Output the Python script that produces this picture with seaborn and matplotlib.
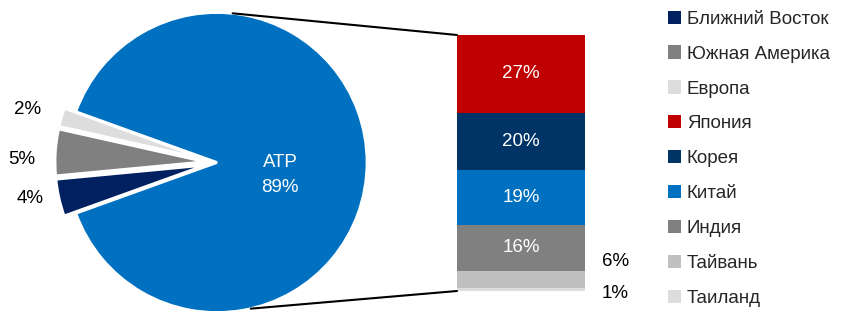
import matplotlib
matplotlib.use("Agg")
import matplotlib.pyplot as plt
import seaborn as sns
import pandas as pd
import numpy as np
from matplotlib.patches import Patch, ConnectionPatch

# ---- data ----
pie_names = ["Европа", "Южная Америка", "Ближний Восток", "АТР"]
pie_values = [2, 5, 4, 89]
pie_colors = ["#DDDDDD", "#808080", "#002060", "#0070C0"]
pie_explode = [0.08, 0.08, 0.08, 0.0]

bar_names = ["Япония", "Корея", "Китай", "Индия", "Тайвань", "Таиланд"]
bar_values = [27, 20, 19, 16, 6, 1]
bar_colors = ["#C00000", "#003366", "#0070C0", "#808080", "#C0C0C0", "#DDDDDD"]

legend_names = ["Ближний Восток", "Южная Америка", "Европа", "Япония", "Корея",
                "Китай", "Индия", "Тайвань", "Таиланд"]
legend_colors = ["#002060", "#808080", "#DDDDDD", "#C00000", "#003366",
                 "#0070C0", "#808080", "#C0C0C0", "#DDDDDD"]

sns.set_theme(style="white")
plt.rcParams["font.family"] = ["Liberation Sans", "DejaVu Sans"]
FS = 13.5

W, H = 841, 311
fig = plt.figure(figsize=(W / 100, H / 100), dpi=100)

# ---- pie ----
cx, cy, R = 217, 311 - 162.5, 150
half = 1.6 * R
axp = fig.add_axes([(cx - half) / W, (cy - half) / H, 2 * half / W, 2 * half / H])
small_labels = [f"{v}%" for v in pie_values[:-1]] + [""]
wedges, texts = axp.pie(pie_values, colors=pie_colors, explode=pie_explode,
                        startangle=180 - sum(pie_values[:-1]) * 3.6 / 2,
                        labels=small_labels, labeldistance=1.13, radius=1,
                        wedgeprops=dict(edgecolor="white", linewidth=2),
                        textprops=dict(fontsize=FS, color="black"))
label_pos = [(-1.26, 0.355), (-1.30, 0.02), (-1.247, -0.24)]
for t, p in zip(texts, label_pos):
    t.set_position(p)
    t.set_ha("center")
    t.set_va("center")
axp.set_xlim(-1.6, 1.6)
axp.set_ylim(-1.6, 1.6)
axp.axis("off")
axp.text(0.42, -0.083, f"{pie_names[-1]}\n{pie_values[-1]}%", color="white",
         fontsize=FS, ha="center", va="center", linespacing=1.6)

# ---- stacked bar ----
bx0, bx1, by0, by1 = 457, 585, 311 - 291, 311 - 35
axb = fig.add_axes([bx0 / W, by0 / H, (bx1 - bx0) / W, (by1 - by0) / H])
tops = np.cumsum(bar_values[::-1])[::-1]
df = pd.DataFrame({"stack": ["АТР"] * len(bar_names), "region": bar_names,
                   "top": tops, "value": bar_values})
sns.barplot(data=df, x="stack", y="top", hue="region", hue_order=bar_names,
            palette=bar_colors, dodge=False, width=1, saturation=1,
            linewidth=0, legend=False, ax=axb)
axb.set_ylim(0, sum(bar_values))
axb.set_xlim(-0.5, 0.5)
axb.axis("off")
for t, v in zip(tops, bar_values):
    if v >= 10:
        axb.text(0, t - v / 2, f"{v}%", color="white", fontsize=FS,
                 ha="center", va="center")
# small outside labels
axb.text(0.63, 10.1, f"{bar_values[-2]}%", color="black", fontsize=FS,
         ha="left", va="center", clip_on=False)
axb.text(0.63, -0.7, f"{bar_values[-1]}%", color="black", fontsize=FS,
         ha="left", va="center", clip_on=False)

# ---- connectors ----
for ang, yb in [(84, sum(bar_values)), (-77, 0)]:
    a = np.deg2rad(ang)
    con = ConnectionPatch(xyA=(np.cos(a), np.sin(a)), coordsA=axp.transData,
                          xyB=(-0.5, yb), coordsB=axb.transData,
                          color="black", linewidth=1.5)
    fig.add_artist(con)

# ---- legend ----
handles = [Patch(facecolor=c, edgecolor="none", label=n)
           for n, c in zip(legend_names, legend_colors)]
fig.legend(handles=handles, loc="upper left", bbox_to_anchor=(668 / W, 1 - 10.5 / H),
           frameon=False, borderpad=0, borderaxespad=0, handlelength=0.7,
           handleheight=0.7, handletextpad=0.3, labelspacing=0.95, fontsize=FS)

fig.savefig("out.png", dpi=100)
